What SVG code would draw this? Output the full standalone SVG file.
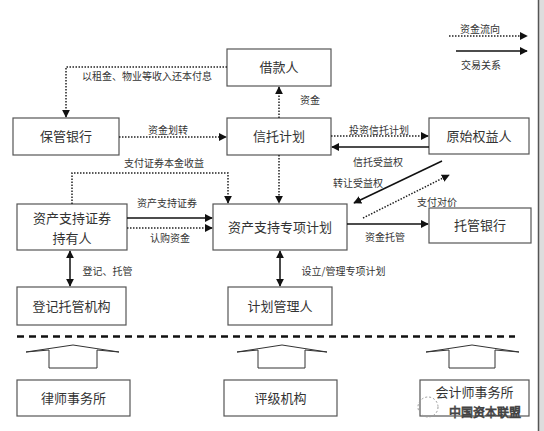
<svg xmlns="http://www.w3.org/2000/svg" width="544" height="431" viewBox="0 0 544 431">
<style>
.box{fill:#fff;stroke:#555;stroke-width:1.2}
.t{font-family:"Noto Sans CJK SC","Noto Sans",sans-serif;font-size:13px;fill:#333;text-anchor:middle}
.l{font-family:"Noto Sans CJK SC","Noto Sans",sans-serif;font-size:10px;fill:#333;text-anchor:middle}
.sol{fill:none;stroke:#111;stroke-width:1.5}
.dot{fill:none;stroke:#222;stroke-width:1.5;stroke-dasharray:1.5 1.5}
.hol{fill:#fff;stroke:#333;stroke-width:1}
</style>
<defs>
<marker id="ah" viewBox="0 0 10 10" refX="9" refY="5" markerWidth="8" markerHeight="8" markerUnits="userSpaceOnUse" orient="auto-start-reverse">
<path d="M0,0 L10,5 L0,10 z" fill="#111"/>
</marker>
</defs>
<rect x="0" y="0" width="544" height="431" fill="#fff"/>
<rect x="539" y="0" width="5" height="431" fill="#ddd"/>
<line x1="538.5" y1="0" x2="538.5" y2="431" stroke="#555" stroke-width="1.5"/>

<g id="n-jiekuanren"><rect class="box" x="227" y="49" width="104" height="37"/><text class="t" x="279" y="72">借款人</text></g>
<g id="n-baoguanyinhang"><rect class="box" x="13" y="118" width="106" height="37"/><text class="t" x="66" y="141">保管银行</text></g>
<g id="n-xintuojihua"><rect class="box" x="227" y="118" width="104" height="37"/><text class="t" x="279" y="141">信托计划</text></g>
<g id="n-yuanshiquanyiren"><rect class="box" x="429" y="118" width="100" height="36"/><text class="t" x="479" y="141">原始权益人</text></g>
<g id="n-chiyouren"><rect class="box" x="17" y="204" width="110" height="46"/><text class="t" x="72" y="222.5">资产支持证券</text><text class="t" x="72" y="242.5">持有人</text></g>
<g id="n-zhuanxiangjihua"><rect class="box" x="213" y="204" width="134" height="46"/><text class="t" x="280" y="231.5">资产支持专项计划</text></g>
<g id="n-tuoguanyinhang"><rect class="box" x="429" y="208" width="102" height="35"/><text class="t" x="480" y="230">托管银行</text></g>
<g id="n-dengjituoguan"><rect class="box" x="17" y="287" width="109" height="38"/><text class="t" x="71.5" y="310.5">登记托管机构</text></g>
<g id="n-jihuaguanliren"><rect class="box" x="228" y="287" width="104" height="38"/><text class="t" x="280" y="310.5">计划管理人</text></g>
<g id="n-lvshi"><rect class="box" x="17" y="380" width="113" height="36"/><text class="t" x="73.5" y="402.5">律师事务所</text></g>
<g id="n-pingji"><rect class="box" x="224" y="380" width="113" height="36"/><text class="t" x="280.5" y="402.5">评级机构</text></g>
<g id="n-kuaiji"><rect class="box" x="420" y="380" width="109" height="36"/><text class="t" x="474.5" y="397" font-size="12">会计师事务所</text></g>

<g id="connectors">
<polyline class="dot" points="227,67 66,67 66,117" marker-end="url(#ah)"/>
<line class="dot" x1="119" y1="137" x2="226" y2="137" marker-end="url(#ah)"/>
<line class="dot" x1="279" y1="118" x2="279" y2="87" marker-end="url(#ah)"/>
<line class="dot" x1="331" y1="136" x2="428" y2="136" marker-end="url(#ah)"/>
<line class="sol" x1="429" y1="147" x2="332" y2="147" marker-end="url(#ah)"/>
<line class="dot" x1="279" y1="155" x2="279" y2="203" marker-end="url(#ah)"/>
<polyline class="dot" points="72,204 72,173 228,173 228,203" marker-end="url(#ah)"/>
<line class="sol" x1="127" y1="218" x2="212" y2="218" marker-end="url(#ah)"/>
<line class="dot" x1="127" y1="228" x2="212" y2="228" marker-end="url(#ah)"/>
<line class="sol" x1="442" y1="161" x2="354" y2="203" marker-end="url(#ah)"/>
<line class="dot" x1="363" y1="218" x2="449" y2="175" marker-end="url(#ah)"/>
<line class="sol" x1="347" y1="224" x2="428" y2="224" marker-end="url(#ah)"/>
<line class="sol" x1="70" y1="251" x2="70" y2="286" marker-start="url(#ah)" marker-end="url(#ah)"/>
<line class="sol" x1="280" y1="251" x2="280" y2="286" marker-start="url(#ah)" marker-end="url(#ah)"/>
<line class="dot" x1="449" y1="36" x2="527" y2="36" marker-end="url(#ah)"/>
<line class="sol" x1="456" y1="51" x2="527" y2="51" marker-end="url(#ah)"/>
</g>

<g id="labels">
<text class="l" x="147" y="79.5">以租金、物业等收入还本付息</text>
<text class="l" x="168" y="133.5">资金划转</text>
<text class="l" x="310" y="103.5">资金</text>
<text class="l" x="379" y="133.5">投资信托计划</text>
<text class="l" x="378" y="165.5">信托受益权</text>
<text class="l" x="164" y="166.5">支付证券本金收益</text>
<text class="l" x="167" y="206.5">资产支持证券</text>
<text class="l" x="170" y="241.5">认购资金</text>
<text class="l" x="358" y="186.5">转让受益权</text>
<text class="l" x="437" y="205.5">支付对价</text>
<text class="l" x="385" y="240.5">资金托管</text>
<text class="l" x="107.5" y="274.5">登记、托管</text>
<text class="l" x="343.5" y="274.5">设立/管理专项计划</text>
<text class="l" x="480" y="32.5">资金流向</text>
<text class="l" x="481" y="68.5">交易关系</text>
</g>

<line x1="17" y1="336.5" x2="515" y2="336.5" stroke="#111" stroke-width="2.5" stroke-dasharray="7 5"/>
<polygon class="hol" points="26,352 73,345 119,352 97,350 97,368 49,368 49,350"/>
<polygon class="hol" points="237,352 282,345 327,352 305,350 305,368 258,368 258,350"/>
<polygon class="hol" points="426,352 472,345 519,352 495,350 495,368 449,368 449,350"/>

<circle cx="428" cy="407" r="10" fill="none" stroke="#999" stroke-width="1" stroke-dasharray="2 2"/>
<text x="485" y="417" font-family="'Noto Sans CJK SC',sans-serif" font-size="12" fill="#fff" stroke="#444" stroke-width="0.8" text-anchor="middle">中国资本联盟</text>
</svg>
